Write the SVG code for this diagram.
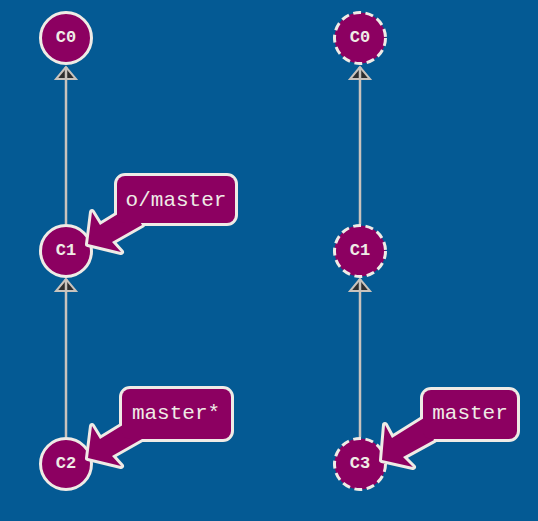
<svg xmlns="http://www.w3.org/2000/svg" width="538" height="521" viewBox="0 0 538 521">
<style>
.bg{fill:#045a94}
.node circle{fill:#8c0061;stroke:#efebe6;stroke-width:3}
.node.dash circle{stroke-dasharray:8 4.5}
.node text{font-family:"Liberation Mono","DejaVu Sans Mono",monospace;font-weight:bold;font-size:17px;fill:#efebe6;text-anchor:middle;dominant-baseline:central}
.edge{stroke:#c9c3bd;stroke-width:2.5;fill:none}
.lbl .out{fill:#efebe6;stroke:#efebe6;stroke-width:6;stroke-linejoin:round}
.lbl .in{fill:#8c0061}
.lbl text{font-family:"Liberation Mono","DejaVu Sans Mono",monospace;font-size:21px;fill:#efebe6;text-anchor:middle}
</style>
<defs>
<marker id="tri" markerUnits="userSpaceOnUse" viewBox="-15 -15 30 30" markerWidth="30" markerHeight="30" refX="0" refY="0" orient="auto" overflow="visible">
<path d="M0,0 L-12,-10 L-12,10 Z" fill="#2e2e2e" stroke="#c9c3bd" stroke-width="2" stroke-linejoin="miter"/>
<path d="M-12,0 L0,0" stroke="#c9c3bd" stroke-width="2.5"/>
</marker>
</defs>
<rect class="bg" x="0" y="0" width="538" height="521"/>
<g id="connectors">
<line class="edge" x1="66" y1="224" x2="66" y2="67" marker-end="url(#tri)"/>
<line class="edge" x1="66" y1="437" x2="66" y2="279" marker-end="url(#tri)"/>
<line class="edge" x1="360" y1="224" x2="360" y2="67" marker-end="url(#tri)"/>
<line class="edge" x1="360" y1="437" x2="360" y2="279" marker-end="url(#tri)"/>
</g>
<g id="n-c0-left" class="node"><circle cx="66" cy="38" r="25.5"/><text x="66" y="37">C0</text></g>
<g id="n-c1-left" class="node"><circle cx="66" cy="251" r="25.5"/><text x="66" y="250">C1</text></g>
<g id="n-c2-left" class="node"><circle cx="66" cy="464" r="25.5"/><text x="66" y="463">C2</text></g>
<g id="n-c0-right" class="node dash"><circle cx="360" cy="38" r="25.5"/><text x="360" y="37">C0</text></g>
<g id="n-c1-right" class="node dash"><circle cx="360" cy="251" r="25.5"/><text x="360" y="250">C1</text></g>
<g id="n-c3-right" class="node dash"><circle cx="360" cy="464" r="25.5"/><text x="360" y="463">C3</text></g>
<g id="label-o-master" class="lbl">
<polygon class="out" points="88,244 92,212 100,225 131,206 142,225 112,242 121,252"/>
<rect class="out" x="117" y="176" width="118" height="47" rx="8"/>
<polygon class="in" points="88,244 92,212 100,225 131,206 142,225 112,242 121,252"/>
<rect class="in" x="117" y="176" width="118" height="47" rx="8"/>
<text x="176" y="206">o/master</text>
</g>
<g id="label-master-star" class="lbl">
<polygon class="out" points="88,458 92,426 100,439 131,420 142,439 112,456 121,466"/>
<rect class="out" x="122" y="389" width="109" height="50" rx="8"/>
<polygon class="in" points="88,458 92,426 100,439 131,420 142,439 112,456 121,466"/>
<rect class="in" x="122" y="389" width="109" height="50" rx="8"/>
<text x="176" y="419">master*</text>
</g>
<g id="label-master" class="lbl">
<polygon class="out" points="382,460 385,425 392,438 424,418 434,440 403,457 413,467"/>
<rect class="out" x="423" y="390" width="94" height="49" rx="8"/>
<polygon class="in" points="382,460 385,425 392,438 424,418 434,440 403,457 413,467"/>
<rect class="in" x="423" y="390" width="94" height="49" rx="8"/>
<text x="470" y="419">master</text>
</g>
</svg>
